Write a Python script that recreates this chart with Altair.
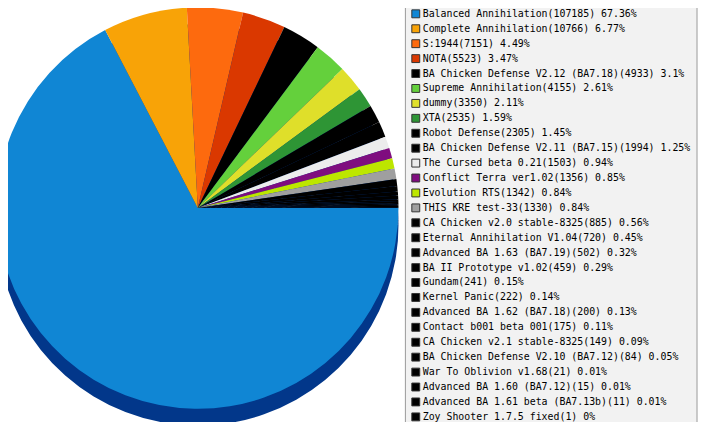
import math
import altair as alt
import pandas as pd

names = [
    "Balanced Annihilation", "Complete Annihilation", "S:1944", "NOTA",
    "BA Chicken Defense V2.12 (BA7.18)", "Supreme Annihilation", "dummy", "XTA",
    "Robot Defense", "BA Chicken Defense V2.11 (BA7.15)", "The Cursed beta 0.21",
    "Conflict Terra ver1.02", "Evolution RTS", "THIS KRE test-33",
    "CA Chicken v2.0 stable-8325", "Eternal Annihilation V1.04",
    "Advanced BA 1.63 (BA7.19)", "BA II Prototype v1.02", "Gundam", "Kernel Panic",
    "Advanced BA 1.62 (BA7.18)", "Contact b001 beta 001", "CA Chicken v2.1 stable-8325",
    "BA Chicken Defense V2.10 (BA7.12)", "War To Oblivion v1.68",
    "Advanced BA 1.60 (BA7.12)", "Advanced BA 1.61 beta (BA7.13b)", "Zoy Shooter 1.7.5_fixed",
]
counts = [107185, 10766, 7151, 5523, 4933, 4155, 3350, 2535, 2305, 1994, 1503, 1356,
          1342, 1330, 885, 720, 502, 459, 241, 222, 200, 175, 149, 84, 21, 15, 11, 1]
pcts = ["67.36", "6.77", "4.49", "3.47", "3.1", "2.61", "2.11", "1.59", "1.45", "1.25",
        "0.94", "0.85", "0.84", "0.84", "0.56", "0.45", "0.32", "0.29", "0.15", "0.14",
        "0.13", "0.11", "0.09", "0.05", "0.01", "0.01", "0.01", "0"]
colors = ["#1086d4", "#f8a307", "#fd6a0e", "#da3800", "#000000", "#64d03c", "#dfdf2a",
          "#2e9535", "#000000", "#000000", "#ececec", "#7f0d7f", "#bde600", "#9f9f9f"] + ["#000000"] * 14
side_color = "#02378a"

labels = [f"{n}({c}) {p}%" for n, c, p in zip(names, counts, pcts)]
df = pd.DataFrame({"label": labels, "count": counts, "idx": list(range(len(labels)))})

theta = alt.Theta("count:Q", stack=True,
                  scale=alt.Scale(range=[math.pi / 2, math.pi / 2 + 2 * math.pi]))

side = alt.Chart(df).mark_arc(radius=203, yOffset=17, color=side_color).encode(
    theta=theta, order=alt.Order("idx:Q")
)

top = alt.Chart(df).mark_arc(radius=203, stroke=None).encode(
    theta=theta,
    order=alt.Order("idx:Q"),
    color=alt.Color("label:N", sort=None,
                    scale=alt.Scale(domain=labels, range=colors),
                    legend=alt.Legend(
                        orient="none", legendX=401.5, legendY=-10, title=None,
                        symbolType="square", symbolSize=64,
                        symbolStrokeColor="#333333", symbolStrokeWidth=1,
                        labelFont="DejaVu Sans Mono", labelFontSize=10, labelColor="#000000",
                        labelLimit=500, labelOffset=2,
                        labelExpr="datum.label + '\u00a0'",
                        fillColor="#f2f2f2", strokeColor="#999999",
                        padding=6, rowPadding=0.1, clipHeight=15, symbolLimit=0,
                    )),
)

chart = alt.layer(side, top).properties(
    width=384, height=400,
    autosize=alt.AutoSizeParams(type="none"),
    padding={"left": 0, "top": 0, "right": 315, "bottom": 14},
).configure_view(stroke=None)

chart.save("out.html", embed_options={"renderer": "svg", "actions": False})
